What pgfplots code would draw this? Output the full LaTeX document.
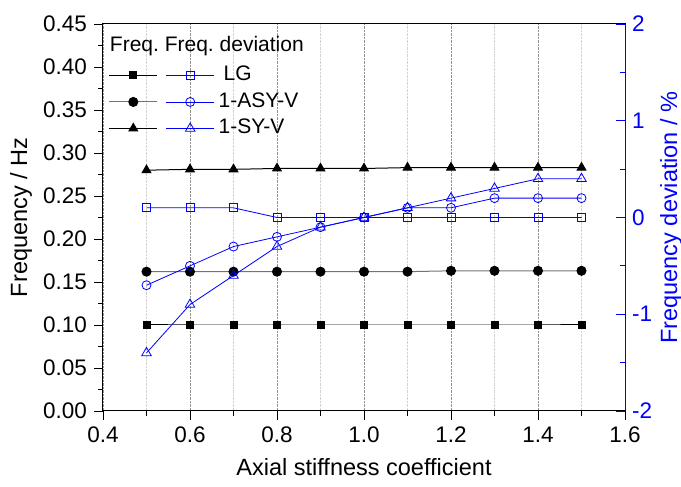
\documentclass[border=0pt]{standalone}
\usepackage{fontspec}
\setmainfont{Liberation Sans}
\usepackage{pgfplots}
\usepackage{pgfplotstable}
\pgfplotsset{compat=1.18}

% x: axial stiffness coefficient; lg/asy/sy: frequency (Hz); d*: deviation (%)
\pgfplotstableread{
x   lg    asy   sy    dlg  dasy  dsy
0.5 0.100 0.162 0.280 0.1  -0.7  -1.4
0.6 0.100 0.162 0.281 0.1  -0.5  -0.9
0.7 0.100 0.162 0.281 0.1  -0.3  -0.6
0.8 0.100 0.162 0.282 0.0  -0.2  -0.3
0.9 0.100 0.162 0.282 0.0  -0.1  -0.1
1.0 0.100 0.162 0.282 0.0   0.0   0.0
1.1 0.100 0.162 0.283 0.0   0.1   0.1
1.2 0.100 0.163 0.283 0.0   0.1   0.2
1.3 0.100 0.163 0.283 0.0   0.2   0.3
1.4 0.100 0.163 0.283 0.0   0.2   0.4
1.5 0.100 0.163 0.283 0.0   0.2   0.4
}\freqdata

\newcommand\tickfont{\fontsize{22.5}{27}\selectfont}
\newcommand\labelfont{\fontsize{23.5}{28}\selectfont}

\pgfplotsset{
  legend image code/.code={%
    \draw[mark repeat=2,mark phase=2,#1] plot coordinates {(0pt,0pt) (24pt,0pt) (48pt,0pt)};},
}

\begin{document}
\fontsize{21}{25}\selectfont
\begin{tikzpicture}
\begin{axis}[
    name=ax,
    scale only axis, width=522pt, height=387pt,
    xmin=0.4, xmax=1.6, ymin=0, ymax=0.45,
    xtick={0.4,0.6,0.8,1.0,1.2,1.4,1.6},
    ytick={0,0.05,0.10,0.15,0.20,0.25,0.30,0.35,0.40,0.45},
    minor x tick num=1, minor y tick num=1,
    xtick pos=left, ytick pos=left,
    tick align=outside,
    major tick length=9pt, minor tick length=5pt,
    every tick/.style={black, line width=0.8pt},
    axis line style={line width=1pt},
    xmajorgrids, xminorgrids,
    major grid style={densely dotted, gray!85},
    minor grid style={densely dotted, gray!35},
    /pgf/number format/assume math mode=true,
    tick label style={font=\tickfont},
    xticklabel style={/pgf/number format/.cd, fixed, fixed zerofill, precision=1},
    yticklabel style={/pgf/number format/.cd, fixed, fixed zerofill, precision=2},
    xlabel={Axial stiffness coefficient},
    ylabel={Frequency / Hz},
    xlabel style={font=\labelfont, at={(axis description cs:0.5,-0.145)}, anchor=center},
    ylabel style={font=\labelfont, at={(axis description cs:-0.157,0.5)}, anchor=center, rotate=0},
  ]
  \addplot[black, line width=1pt, mark=square*, mark size=3.5pt] table[x=x, y=lg] {\freqdata};
  \addplot[black!55, line width=1pt, mark=*, mark size=4.5pt, mark options={black}] table[x=x, y=asy] {\freqdata};
  \addplot[black, line width=1pt, mark=triangle*, mark size=5pt] table[x=x, y=sy] {\freqdata};
  \node[anchor=west, inner sep=0pt] at (axis description cs:0.013,0.943) {Freq.\ Freq.\ deviation};
\end{axis}
\begin{axis}[
    scale only axis, width=522pt, height=387pt,
    xmin=0.4, xmax=1.6, ymin=-2, ymax=2,
    axis x line=none, axis y line*=right,
    ytick={-2,-1,0,1,2}, minor y tick num=1,
    tick align=inside,
    major tick length=9pt, minor tick length=5pt,
    every tick/.style={blue, line width=0.8pt},
    y axis line style={blue, line width=1pt},
    /pgf/number format/assume math mode=true,
    yticklabel style={blue, font=\tickfont},
    ylabel={Frequency deviation / \%},
    ylabel style={blue, font=\labelfont, at={(axis description cs:1.088,0.5)}, anchor=center},
    legend columns=2,
    legend cell align=left,
    legend style={draw=none, fill=none, at={(axis description cs:0.005,0.905)}, anchor=north west,
      row sep=1.5pt,
      nodes={inner xsep=4pt, inner ysep=2pt, text height=16pt, text depth=5pt}},
  ]
  \addlegendimage{black, line width=1pt, mark=square*, mark size=3.5pt}
  \addlegendentry{}
  \addplot[blue, line width=0.8pt, mark=square, mark size=4pt, mark options={fill=white}] table[x=x, y=dlg] {\freqdata};
  \addlegendentry{\hspace{5pt}LG}
  \addlegendimage{black!55, line width=1pt, mark=*, mark size=4.5pt, mark options={black}}
  \addlegendentry{}
  \addplot[blue, line width=0.8pt, mark=o, mark size=4.5pt, mark options={fill=white}] table[x=x, y=dasy] {\freqdata};
  \addlegendentry{1-ASY-V}
  \addlegendimage{black, line width=1pt, mark=triangle*, mark size=5pt}
  \addlegendentry{}
  \addplot[blue, line width=0.8pt, mark=triangle, mark size=5.5pt, mark options={fill=white}] table[x=x, y=dsy] {\freqdata};
  \addlegendentry{1-SY-V}
\end{axis}
\pgfresetboundingbox
\path ([shift={(-103pt,-76pt)}]ax.south west) rectangle ([shift={(56pt,24pt)}]ax.north east);
\end{tikzpicture}
\end{document}
